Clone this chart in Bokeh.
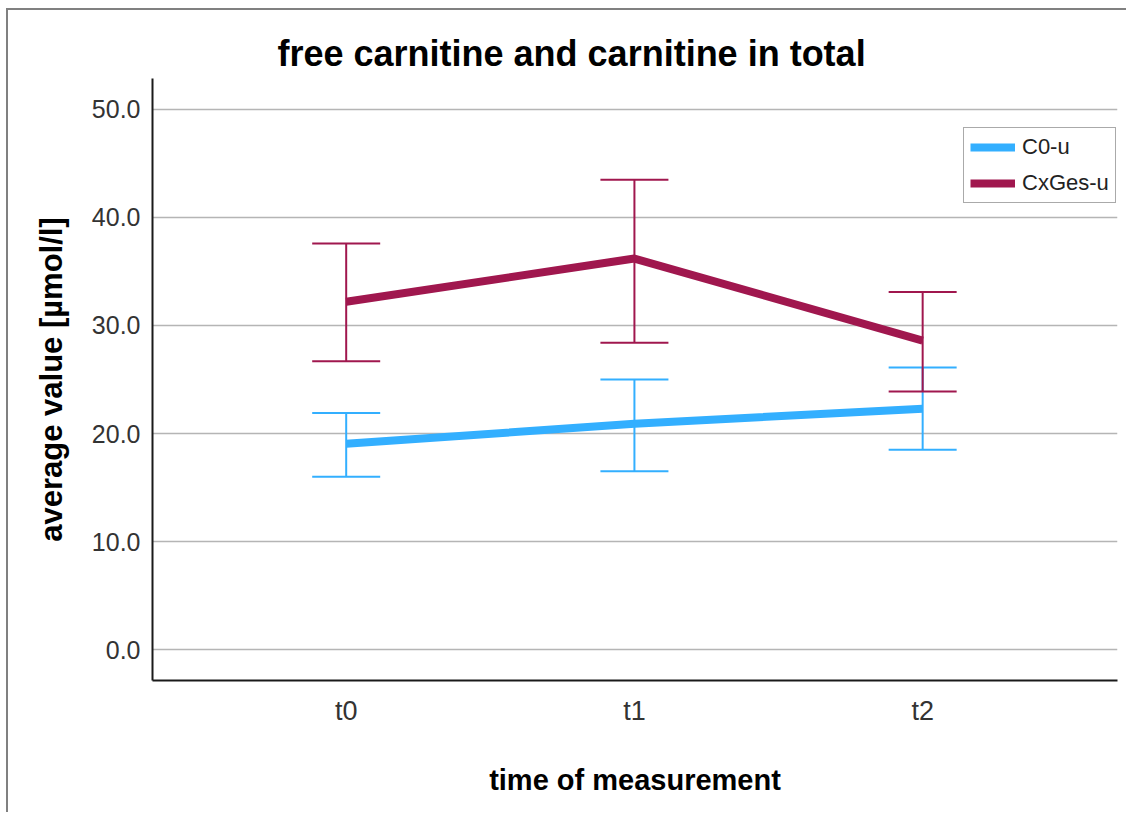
from bokeh.plotting import figure
from bokeh.models import (ColumnDataSource, Whisker, TeeHead, FixedTicker,
                          Range1d, Legend, LegendItem)
from bokeh.embed import file_html
from bokeh.resources import INLINE

# time points and their tick labels
time_points = [0, 1, 2]
time_labels = ["t0", "t1", "t2"]

# mean values with lower / upper error limits [µmol/l]
c0_mean = [19.05, 20.9, 22.3]
c0_lower = [16.0, 16.5, 18.5]
c0_upper = [21.9, 25.0, 26.1]

cx_mean = [32.2, 36.2, 28.6]
cx_lower = [26.7, 28.4, 23.9]
cx_upper = [37.6, 43.5, 33.1]

y_ticks = [0, 10, 20, 30, 40, 50]
y_tick_labels = ["0.0", "10.0", "20.0", "30.0", "40.0", "50.0"]

series_names = ["C0-u", "CxGes-u"]
C0_COLOR = "#33AFFF"
CX_COLOR = "#A0174E"
FONT = "Liberation Sans"

p = figure(
    width=1120, height=804,
    x_range=Range1d(-0.672, 2.676),
    y_range=Range1d(-2.87, 52.87),
    output_backend="svg", toolbar_location=None,
    min_border_left=144, min_border_right=11,
    min_border_top=68, min_border_bottom=134,
    background_fill_color="white", border_fill_color="white",
    outline_line_color=None,
)
p.styles = {
    "margin-left": "6px", "margin-top": "8px",
    "border-top": "2px solid #808080", "border-left": "2px solid #808080",
}

p.title.text = "free carnitine and carnitine in total"
p.title.text_font = FONT
p.title.text_font_size = "36px"
p.title.text_font_style = "bold"
p.title.align = "left"
p.title.offset = 125
p.title.text_color = "#000000"

# axes
p.xaxis.ticker = FixedTicker(ticks=time_points)
p.xaxis.major_label_overrides = dict(zip(time_points, time_labels))
p.yaxis.ticker = FixedTicker(ticks=y_ticks)
p.yaxis.major_label_overrides = dict(zip(y_ticks, y_tick_labels))

p.xaxis.axis_label = "time of measurement"
p.yaxis.axis_label = "average value [µmol/l]"
for ax in (p.xaxis, p.yaxis):
    ax.axis_label_text_font = FONT
    ax.axis_label_text_font_style = "bold"
    ax.axis_label_text_color = "#000000"
    ax.major_label_text_font = FONT
    ax.major_label_text_color = "#333333"
    ax.major_tick_line_color = None
    ax.minor_tick_line_color = None
    ax.axis_line_color = "#1a1a1a"
    ax.axis_line_width = 2
p.xaxis.major_label_text_font_size = "27px"
p.yaxis.major_label_text_font_size = "25px"
p.xaxis.axis_label_text_font_size = "29px"
p.yaxis.axis_label_text_font_size = "31px"
p.xaxis.major_label_standoff = 9
p.xaxis.axis_label_standoff = 35
p.yaxis.major_label_standoff = 6
p.yaxis.axis_label_standoff = 20

p.xgrid.grid_line_color = None
p.ygrid.grid_line_color = "#b5b5b5"
p.ygrid.grid_line_width = 1.5

src_c0 = ColumnDataSource(dict(x=time_points, mean=c0_mean, lower=c0_lower, upper=c0_upper))
src_cx = ColumnDataSource(dict(x=time_points, mean=cx_mean, lower=cx_lower, upper=cx_upper))

renderers = []
for src, color in ((src_c0, C0_COLOR), (src_cx, CX_COLOR)):
    line = p.line("x", "mean", source=src, line_color=color, line_width=8)
    renderers.append(line)
    whisker = Whisker(
        base="x", lower="lower", upper="upper", source=src,
        line_color=color, line_width=2,
        lower_head=TeeHead(size=68, line_color=color, line_width=2),
        upper_head=TeeHead(size=68, line_color=color, line_width=2),
    )
    p.add_layout(whisker)

legend = Legend(
    items=[LegendItem(label=n, renderers=[r]) for n, r in zip(series_names, renderers)],
    location=(811, 477),
    label_text_font=FONT, label_text_font_size="22px", label_text_color="#222222",
    glyph_width=45, glyph_height=22, label_standoff=7,
    padding=6, spacing=10, margin=0,
    border_line_color="#555555", border_line_width=1,
    background_fill_color="white", background_fill_alpha=1.0,
)
p.add_layout(legend)

open("out.html", "w").write(file_html(p, INLINE))
